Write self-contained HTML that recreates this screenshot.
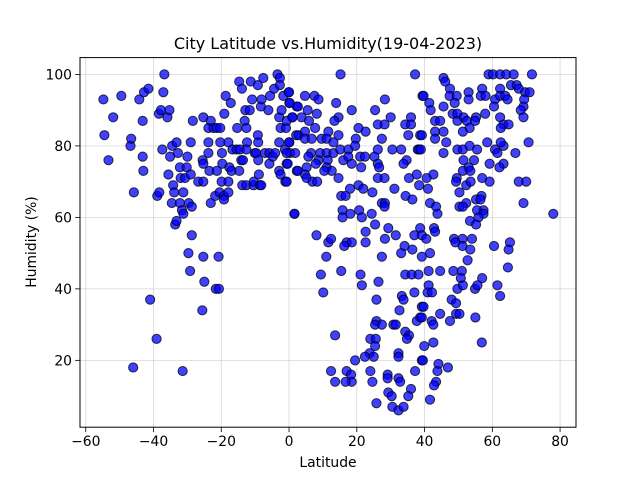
<!DOCTYPE html>
<html><head><meta charset="utf-8"><style>
html,body{margin:0;padding:0;background:#fff;}
svg{display:block;font-family:"DejaVu Sans","Liberation Sans",sans-serif;}
</style></head><body>
<svg id="chart" width="640" height="480" viewBox="0 0 640 480" xmlns="http://www.w3.org/2000/svg">
<rect width="640" height="480" fill="#fff"/>
<g id="grid"></g>
<g id="points"></g>
<rect x="80" y="57.6" width="496" height="369.6" fill="none" stroke="#000" stroke-width="1"/>
<g id="xticks"></g>
<g id="yticks"></g>
<text x="328" y="49" text-anchor="middle" font-size="16">City Latitude vs.Humidity(19-04-2023)</text>
<text x="328" y="467" text-anchor="middle" font-size="13.9">Latitude</text>
<text x="36" y="242" text-anchor="middle" font-size="13.9" transform="rotate(-90 36 242)">Humidity (%)</text>
</svg>
<script>
const xTicks = [-60,-40,-20,0,20,40,60,80];
const yTicks = [20,40,60,80,100];
const latitudes = [
-54.8,-49.5,-51.9,-54.5,-53.3,-46.8,-46.6,-45.8,-46,-44.2,-43.2,-43.2,-43,-42.8,-41.5,-41,-39.1,-38.9,-38.3,-38.4,-37.8,-37.4,-36.8,-37.1,-35.9,-35.3,-34.5,-35.1,-35.6,-34.2,-33.9,-34.6,-33.6,-33.2,-33.2,-32.8,-32.2,-32,-31.2,-32.2,-31.6,-31.2,-31.4,-30.7,-30,-30.2,-29,-29,-29.6,-28.7,-28.7,-29.7,-29.2,-28.4,-26.8,-25.3,-25.5,-25.3,-25.3,-23.8,-23.1,-23.8,-23.8,-23.5,-23.1,-25.3,-25,-25.6,-22.3,-21.3,-20.3,-21.3,-21.8,-20.8,-21.6,-20.7,-20.3,-19.8,-19.7,-19.9,-20.5,-19.2,-19.2,-19.1,-18.7,-17.9,-17.6,-17.9,-17.9,-17.2,-17,-16.7,-15.5,-15.3,-14.7,-14.5,-14.7,-13.9,-14.1,-13.8,-13.6,-13.1,-12.9,-12.6,-12.4,-12.6,-12.6,-11.6,-11.3,-10.9,-10.5,-10.4,-10.1,-9.7,-9.2,-9.1,-9.2,-9.1,-8.9,-8.6,-8.2,-8.3,-8.1,-7.6,-7.1,-6.1,-5.8,-5.8,-5.6,-4.8,-4.4,-4.1,-3.4,-2.7,-2.7,-2.5,-2.9,-2.2,-2.9,-2.9,-2.5,-1.7,-1.2,-1.1,-0.7,-0.9,-0.7,-0.1,0.1,0.1,0.3,1,1.6,2.3,2.3,2.1,
15.2,37.2,0,4.7,7.5,8.7,0.2,2.6,5.5,8.2,13.9,18.5,28.3,25.4,14.6,13.4,1,3.7,5.9,7.7,11.6,20.5,22.6,26.2,28.2,30,34.3,36,36,35.2,38.7,39.4,27.4,2.8,4.7,4.7,6.7,9.6,11.1,13.1,14.6,19.7,0,-0.7,1.8,6.5,9.2,11.1,13.1,15.1,17.5,19.5,21,22.4,25.2,26.2,30.5,33.1,38,38.4,34.7,33.8,5.7,8.7,11.4,16,17.5,-0.4,5.2,7.9,11.1,12.6,18.5,21.3,26.2,26.6,2.6,4.7,10.4,5.2,6.9,8.3,14.6,26.2,28.2,-0.7,35.4,37.7,38.4,20.5,21.9,18,24.6,31.1,34.4,36.4,15.4,16.7,27.4,28.3,28.2,15.8,18.1,20.7,21.5,24.4,15.8,1.6,25.4,29.3,31.5,22.6,22.6,28.3,37,38.7,39.2,8.1,11.6,12.4,17,18.5,16.3,34.1,36.4,33.1,11,27.4,
9.4,15.4,21.1,21.5,26.4,10.1,34.3,36.2,38.2,37,33.3,33.8,25.8,32.6,39.2,38.7,37.7,25.8,25.4,27.4,30.8,31.5,34.3,35.4,34.8,13.6,24,25.6,25.4,23.8,22.4,25,19.5,32.3,32.3,39.2,12.4,17,18.3,18.5,16.7,13.6,24,24.6,29.1,29.1,32.3,32.8,37.2,36,35.2,29.3,30.3,25.8,30.5,32.3,33.8,
45.6,46.1,47.5,47.4,49.5,48.9,53,53,57,56.6,58,60.8,62.3,62.3,63.8,64.5,58.9,60.2,62.3,64.1,66.3,71.7,65.5,67.2,67.8,69.7,71,69.4,69.2,68.4,69.2,60.5,62.3,63.3,64.8,62.5,70.7,66.8,63.3,62.5,60.8,61.5,58.5,39.7,41.4,41.8,45.6,48.3,49.7,51.5,52.5,55.2,57.9,54.9,53.3,51.3,49.7,43.1,44.6,43.1,45.6,43.1,46.4,39.2,38.9,45.6,49.7,51.3,53.3,55.5,51.5,54.6,53,51.3,53.5,59.2,63.3,62.1,42.6,40.6,49.5,49.3,52.3,53.6,57,59.2,67.8,70,41,50.3,56.8,55.2,56.5,52.3,41.6,43.4,50.3,51.3,57.4,55.5,43.8,57.4,55.9,69.2,78,53.4,55.2,42.8,43.1,40.5,48.7,51.2,54,49.1,51.2,53.5,60.5,65.2,64.8,
41.6,39.2,52.7,64.6,41.2,44.6,48.5,51,50.7,57,41.2,49.7,51.3,54.9,55.6,61.5,62.3,40.9,42.2,48,49.3,39.7,39.2,44.6,42.1,42.6,47.5,49.3,50.3,55,42.6,56.9,39.9,39.5,44.1,46.9,43.8,43.4,42.8,41.6
];
const humidity = [
93,94,88,83,76,80,82,67,18,93,87,77,73,95,96,37,26,66,67,89,90,79,100,95,88,90,80,77,72,69,67,64,58,59,81,78,74,71,67,64,62,61,17,71,77,74,72,81,64,63,55,50,45,87,70,70,76,75,88,85,87,81,78,73,64,49,42,34,85,85,85,73,66,49,40,40,81,78,75,70,67,66,65,89,94,81,74,70,67,92,73,79,79,85,73,79,98,96,76,69,76,87,90,85,81,79,69,90,98,93,69,70,78,78,83,81,97,76,72,69,69,91,93,99,78,90,75,78,94,77,96,78,100,99,97,85,88,90,81,73,72,94,79,70,75,85,87,95,92,81,78,88,61,91,73,83,
100,100,95,94,94,93,92,91,90,89,92,90,93,90,88,87,88,88,87,85,84,85,84,86,86,88,86,88,86,83,83,94,82,83,84,82,82,82,82,81,83,82,81,78,78,78,78,78,78,79,79,80,77,77,77,79,79,79,79,79,76,75,77,76,76,76,77,75,74,75,74,73,75,74,75,74,73,72,73,71,70,70,71,71,71,70,71,72,69,69,68,68,67,68,66,65,66,66,64,64,63,62,61,62,60,61,60,61,58,57,55,56,53,54,55,57,55,55,53,54,53,53,52,52,51,50,49,49,
44,45,44,41,42,39,44,44,44,39,38,37,37,34,35,32,31,31,30,30,30,30,28,27,26,27,26,26,24,22,21,21,20,22,21,20,17,17,16,14,14,14,17,14,16,15,15,14,17,12,10,11,10,8,7,6,7,
99,98,96,94,94,92,95,93,96,94,94,93,96,94,94,93,100,100,100,100,100,100,97,97,96,95,95,93,91,90,88,91,88,86,86,85,81,78,80,81,79,78,81,94,92,90,91,89,89,88,87,88,89,87,85,84,87,87,87,84,84,82,81,83,79,78,79,79,80,79,76,76,74,73,73,75,75,74,72,71,71,70,69,70,71,70,70,70,68,67,66,65,65,64,64,63,63,63,62,62,61,61,60,64,61,59,58,57,56,54,54,54,54,53,52,51,52,53,51,
50,49,48,46,45,45,45,45,43,43,41,40,41,40,41,41,38,39,39,37,36,35,32,33,31,30,31,33,33,32,25,25,24,20,19,18,17,14,13,9
];
const X0=80,X1=576,Y0=427.2,Y1=57.6;
const xMin=-61.7,xMax=84.7,yMin=1.3,yMax=104.7;
function xs(v){return X0+(v-xMin)/(xMax-xMin)*(X1-X0);}
function ys(v){return Y0-(v-yMin)/(yMax-yMin)*(Y0-Y1);}
const NS='http://www.w3.org/2000/svg';
const grid=document.getElementById('grid');
const xt=document.getElementById('xticks');
const yt=document.getElementById('yticks');
const pts=document.getElementById('points');
xTicks.forEach(function(t){
  const x=xs(t);
  const g=document.createElementNS(NS,'line');
  g.setAttribute('x1',x);g.setAttribute('x2',x);g.setAttribute('y1',Y1);g.setAttribute('y2',Y0);
  g.setAttribute('stroke','#b0b0b0');g.setAttribute('stroke-opacity','0.5');g.setAttribute('stroke-width','0.8');
  
  
  grid.appendChild(g);
  const tk=document.createElementNS(NS,'line');
  tk.setAttribute('x1',x);tk.setAttribute('x2',x);tk.setAttribute('y1',Y0);tk.setAttribute('y2',Y0+4.9);
  tk.setAttribute('stroke','#000');tk.setAttribute('stroke-width','0.8');
  
  
  xt.appendChild(tk);
  const tx=document.createElementNS(NS,'text');
  tx.setAttribute('x',x);tx.setAttribute('y',Y0+19);tx.setAttribute('text-anchor','middle');tx.setAttribute('font-size','13.9');
  tx.textContent=(t<0?'\u2212'+(-t):t);
  
  
  xt.appendChild(tx);
});
yTicks.forEach(function(t){
  const y=ys(t);
  const g=document.createElementNS(NS,'line');
  g.setAttribute('x1',X0);g.setAttribute('x2',X1);g.setAttribute('y1',y);g.setAttribute('y2',y);
  g.setAttribute('stroke','#b0b0b0');g.setAttribute('stroke-opacity','0.5');g.setAttribute('stroke-width','0.8');
  
  
  grid.appendChild(g);
  const tk=document.createElementNS(NS,'line');
  tk.setAttribute('x1',X0-4.9);tk.setAttribute('x2',X0);tk.setAttribute('y1',y);tk.setAttribute('y2',y);
  tk.setAttribute('stroke','#000');tk.setAttribute('stroke-width','0.8');
  
  
  yt.appendChild(tk);
  const tx=document.createElementNS(NS,'text');
  tx.setAttribute('x',X0-8);tx.setAttribute('y',y+5);tx.setAttribute('text-anchor','end');tx.setAttribute('font-size','13.9');
  tx.textContent=t;
  
  
  yt.appendChild(tx);
});
const n=Math.min(latitudes.length,humidity.length);
for(let i=0;i<n;i++){
  const c=document.createElementNS(NS,'circle');
  c.setAttribute('cx',xs(latitudes[i]));c.setAttribute('cy',ys(humidity[i]));c.setAttribute('r','4.6');
  c.setAttribute('fill','rgba(0,0,255,0.75)');c.setAttribute('stroke','rgba(0,0,0,0.75)');c.setAttribute('stroke-width','1');
  
  
  pts.appendChild(c);
}
</script>
</body></html>
